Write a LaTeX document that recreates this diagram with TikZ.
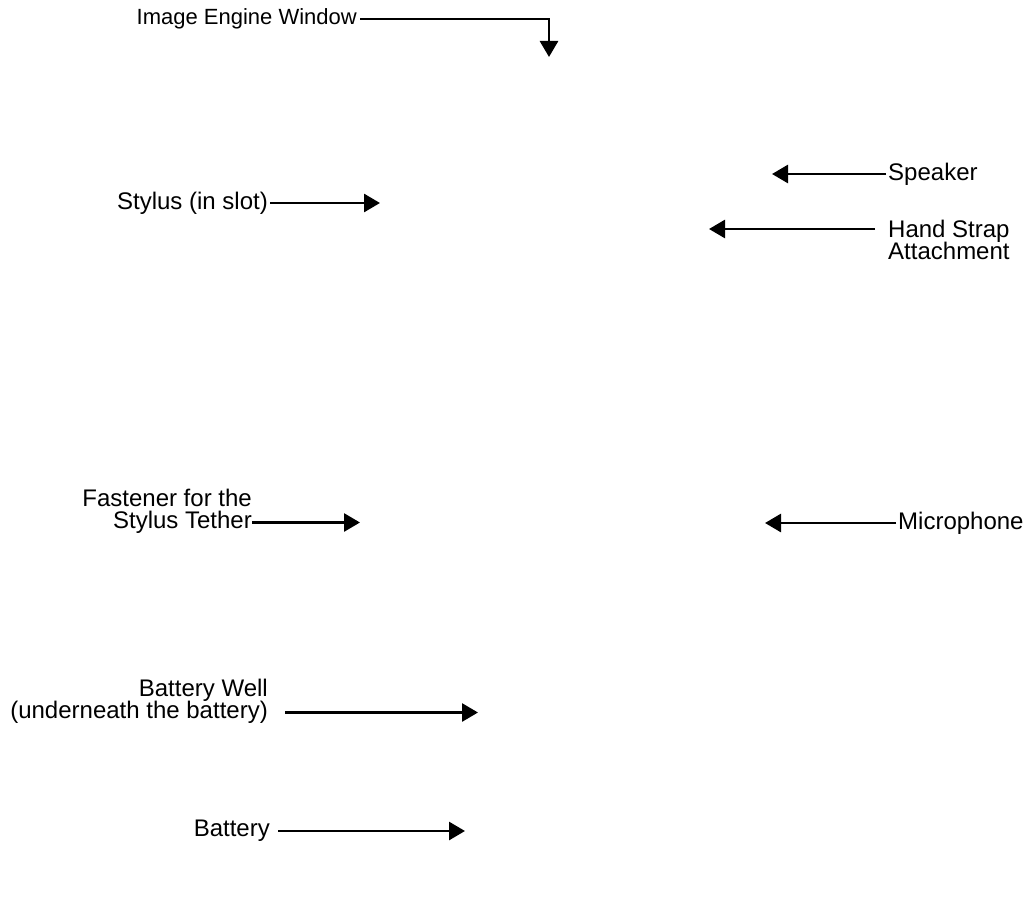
\documentclass[tikz,border=0pt]{standalone}
\usepackage{fontspec}
\setmainfont{Liberation Sans}
\usetikzlibrary{positioning,arrows.meta,calc}
\tikzset{
callout/.style={
inner sep=0pt,
font=\fontsize{24}{22.5}\selectfont
},
leftcallout/.style={
callout,
anchor=east,
align=right
},
rightcallout/.style={
callout,
anchor=west,
align=left
},
pointer/.style={
-{Triangle[length=16pt,width=18pt]},
line width=2.8pt
}
}

\begin{document}
\begin{tikzpicture}[x=1pt,y=-1pt]
\useasboundingbox (0,0) rectangle (1028,899);
\node[leftcallout,font=\fontsize{22}{22.5}\selectfont](win) at (357,19){Image Engine Window};
\node[leftcallout](sty) at (268,203){Stylus (in slot)};
\node[leftcallout](fas) at (252,511.25){Fastener for the\\Stylus Tether};
\node[leftcallout](bwl) at (268,701.25){Battery Well\\(underneath the battery)};
\node[leftcallout](bat) at (270,831){Battery};
\node[rightcallout](spk) at (888,174){Speaker};
\node[rightcallout](hst) at (888,239.75){Hand Strap\\Attachment};
\node[rightcallout](mic) at (898,523){Microphone};

% where the arrows point
\coordinate (win-tip) at (549,57);
\coordinate (sty-tip) at (380,203);
\coordinate (fas-tip) at (360,522.5);
\coordinate (bwl-tip) at (478,712.5);
\coordinate (bat-tip) at (465,831);
\coordinate (spk-tip) at (772,174);
\coordinate (hst-tip) at (709,229);
\coordinate (mic-tip) at (765,523);

\draw[pointer]([xshift=3pt]win.east)-|(win-tip);
\foreach \n/\dx/\dy in {sty/2/0,fas/0/-11.25,bwl/17/-11.25,bat/8/0}
\draw[pointer]([shift={(\dx pt,\dy pt)}]\n.east)--(\n-tip);
\foreach \n/\dx/\dy in {spk/-2/0,hst/-13/10.75,mic/-2/0}
\draw[pointer]([shift={(\dx pt,\dy pt)}]\n.west)--(\n-tip);
\end{tikzpicture}
\end{document}
